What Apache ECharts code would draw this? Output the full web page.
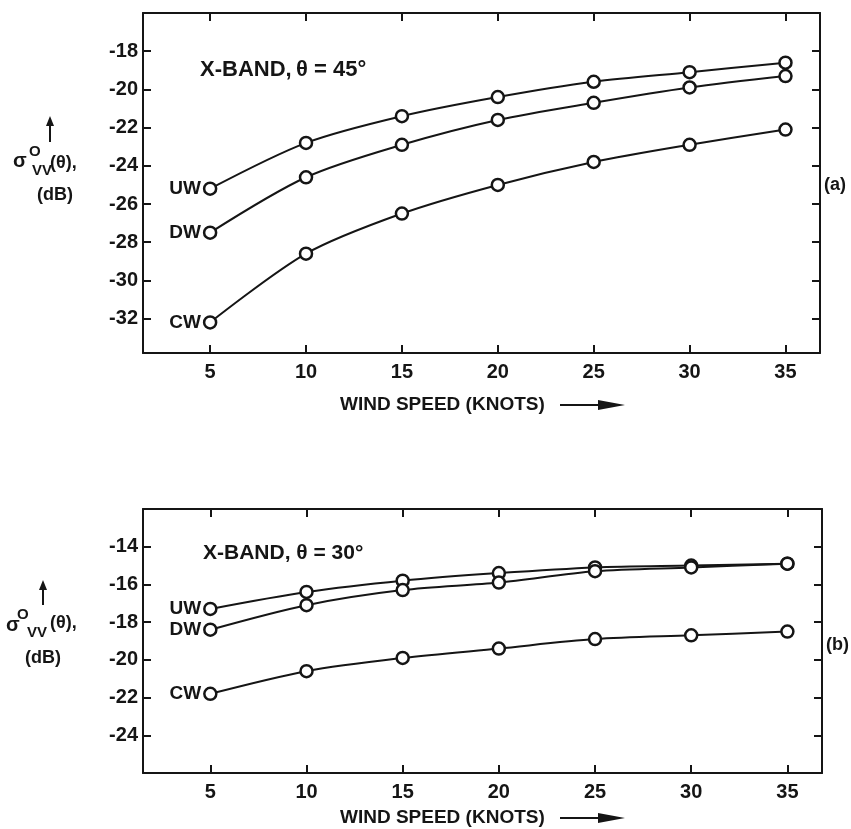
<!DOCTYPE html>
<html>
<head>
<meta charset="utf-8">
<script src="https://cdn.jsdelivr.net/npm/echarts@6/dist/echarts.min.js"></script>
<style>
  html, body { margin: 0; padding: 0; background: #fff; }
  #chart { width: 851px; height: 829px; }
</style>
</head>
<body>
<div id="chart"></div>
<script>
// wind speed (knots)
const speeds = [5, 10, 15, 20, 25, 30, 35];
const xTicks = [5, 10, 15, 20, 25, 30, 35];

// (a) X-band, theta = 45 deg
const uwA = [-25.2, -22.8, -21.4, -20.4, -19.6, -19.1, -18.6];
const dwA = [-27.5, -24.6, -22.9, -21.6, -20.7, -19.9, -19.3];
const cwA = [-32.2, -28.6, -26.5, -25.0, -23.8, -22.9, -22.1];
const yTicksA = [-32, -30, -28, -26, -24, -22, -20, -18];

// (b) X-band, theta = 30 deg
const uwB = [-17.3, -16.4, -15.8, -15.4, -15.1, -15.0, -14.9];
const dwB = [-18.4, -17.1, -16.3, -15.9, -15.3, -15.1, -14.9];
const cwB = [-21.8, -20.6, -19.9, -19.4, -18.9, -18.7, -18.5];
const yTicksB = [-24, -22, -20, -18, -16, -14];

const ink = "#151515";
const font = "Liberation Sans";
const fw = "bold";

const chart = echarts.init(document.getElementById("chart"));

function xAx(grid, pos, labels) {
  return {
    type: "value", gridIndex: grid, position: pos,
    min: 1.5, max: 36.8,
    axisLine: { show: true, onZero: false, lineStyle: { color: ink, width: 2 } },
    axisTick: { show: true, inside: true, length: 8, customValues: xTicks, lineStyle: { color: ink, width: 2 } },
    axisLabel: { show: labels, customValues: xTicks, margin: 9, color: ink, fontSize: 20, fontFamily: font, fontWeight: fw },
    splitLine: { show: false }
  };
}
function yAx(grid, pos, min, max, ticks, labels) {
  return {
    type: "value", gridIndex: grid, position: pos,
    min: min, max: max,
    axisLine: { show: true, onZero: false, lineStyle: { color: ink, width: 2 } },
    axisTick: { show: true, inside: true, length: 8, customValues: ticks, lineStyle: { color: ink, width: 2 } },
    axisLabel: { show: labels, customValues: ticks, margin: 5, color: ink, fontSize: 20, fontFamily: font, fontWeight: fw },
    splitLine: { show: false }
  };
}
function line(tag, vals, xi, yi) {
  return {
    type: "line", xAxisIndex: xi, yAxisIndex: yi,
    data: speeds.map((s, i) => [s, vals[i]]),
    smooth: 0.3,
    symbol: "circle", symbolSize: 12,
    itemStyle: { color: "#fff", borderColor: ink, borderWidth: 2.5 },
    lineStyle: { color: ink, width: 2 },
    label: {
      show: true, position: "left", distance: 2,
      formatter: p => (p.dataIndex === 0 ? tag : ""),
      color: ink, fontSize: 19, fontFamily: font, fontWeight: fw
    },
    z: 3
  };
}

// text with left edge at x, vertical centre at y
function txt(x, y, s, size) {
  return { type: "text", x: x, y: y, style: { text: s, fontSize: size, fontFamily: font, fontWeight: fw, fill: ink, verticalAlign: "middle" } };
}
function upArrow(x, y1, y2) {
  return [
    { type: "line", shape: { x1: x, y1: y2, x2: x, y2: y1 + 8 }, style: { stroke: ink, lineWidth: 2 } },
    { type: "polygon", shape: { points: [[x - 4, y1 + 10], [x + 4, y1 + 10], [x, y1]] }, style: { fill: ink } }
  ];
}
// y-axis name: sigma^O_VV(theta), (dB) with an up arrow
function sigmaLabel(p) {
  return {
    type: "group", x: 0, y: 0,
    children: [
      txt(p.s[0], p.s[1], "σ", 20),
      txt(p.o[0], p.o[1], "O", 15),
      txt(p.v[0], p.v[1], "VV", 15),
      txt(p.t[0], p.t[1], "(θ),", 18),
      txt(p.d[0], p.d[1], "(dB)", 18)
    ].concat(upArrow(p.a[0], p.a[1], p.a[2]))
  };
}
function windName(x, y) {
  return {
    type: "group", x: 0, y: 0,
    children: [
      txt(x, y, "WIND SPEED (KNOTS)", 19),
      { type: "line", shape: { x1: x + 220, y1: y, x2: x + 270, y2: y }, style: { stroke: ink, lineWidth: 2 } },
      { type: "polygon", shape: { points: [[x + 258, y - 5], [x + 285, y], [x + 258, y + 5]] }, style: { fill: ink } }
    ]
  };
}

chart.setOption({
  animation: false,
  backgroundColor: "#fff",
  grid: [
    { left: 143, top: 13, width: 677, height: 340 },
    { left: 143, top: 509, width: 679, height: 264 }
  ],
  xAxis: [xAx(0, "bottom", true), xAx(0, "top", false), xAx(1, "bottom", true), xAx(1, "top", false)],
  yAxis: [
    yAx(0, "left", -33.8, -16, yTicksA, true), yAx(0, "right", -33.8, -16, yTicksA, false),
    yAx(1, "left", -26, -12, yTicksB, true), yAx(1, "right", -26, -12, yTicksB, false)
  ],
  series: [
    line("UW", uwA, 0, 0), line("DW", dwA, 0, 0), line("CW", cwA, 0, 0),
    line("UW", uwB, 2, 2), line("DW", dwB, 2, 2), line("CW", cwB, 2, 2)
  ],
  graphic: [
    { type: "group", x: 0, y: 0, children: [
      txt(200, 70, "X-BAND,", 22),
      txt(296, 70, "θ = 45°", 22),
      txt(203, 553, "X-BAND, θ = 30°", 21),
      txt(824, 185, "(a)", 18),
      txt(826, 645, "(b)", 18)
    ] },
    sigmaLabel({ s: [13, 161], o: [29, 152], v: [32, 171], t: [50, 163], d: [37, 195], a: [50, 116, 142] }),
    sigmaLabel({ s: [6, 625], o: [17, 615], v: [27, 633], t: [50, 623], d: [25, 658], a: [43, 580, 605] }),
    windName(340, 405),
    windName(340, 818)
  ]
});
</script>
</body>
</html>
